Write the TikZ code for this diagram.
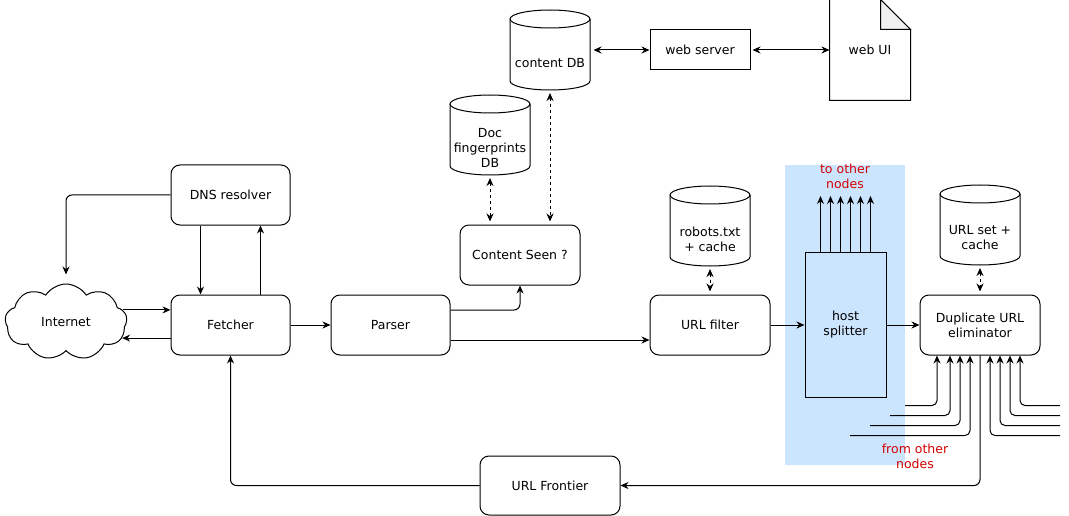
\documentclass[tikz,border=0pt]{standalone}
\usepackage{fontspec}
\setmainfont{DejaVu Sans}
\usetikzlibrary{arrows.meta,calc,shapes.symbols}

\definecolor{zonebg}{HTML}{CCE5FF}
\definecolor{notered}{HTML}{D40000}
\definecolor{foldgray}{HTML}{F0F0F0}

\tikzset{
  every node/.style={font=\fontsize{12.5}{15}\selectfont, align=center},
  >={Stealth[length=8pt,width=7pt]},
  every path/.style={line width=1pt},
  box/.style={draw, rounded corners=9pt, minimum width=119pt, minimum height=60pt},
  plainbox/.style={draw, minimum width=100pt, minimum height=40pt},
  dbtext/.style={minimum width=80pt, inner sep=0pt},
  redtext/.style={text=notered},
  link/.style={->, rounded corners=6pt},
  dblink/.style={<->, dashed, shorten <=3pt, shorten >=3pt}
}

\newcommand{\dbdraw}[1]{%
  \draw ($(#1.center)+(-40,-44)$) -- ($(#1.center)+(-40,18)$)
    arc[start angle=180, end angle=360, x radius=40pt, y radius=9pt]
    -- ($(#1.center)+(40,-44)$);
  \draw ($(#1.center)+(0,-44)$) ellipse[x radius=40pt, y radius=9pt];
  \coordinate (#1-bot) at ($(#1.center)+(0,27)$);
}

\begin{document}
\begin{tikzpicture}[x=1pt, y=-1pt]
\useasboundingbox (0,0) rectangle (1069,516);
\fill[zonebg] (785,165) rectangle (905,465);

\node[cloud, draw, cloud puffs=9, cloud puff arc=115, aspect=1.7,
      minimum width=122pt, minimum height=76pt, inner sep=0pt] (inet) at (66,322) {Internet};
\node[box] (dns) at (230.5,195) {DNS resolver};
\node[box] (fetch) at (230.5,325) {Fetcher};
\node[box] (parser) at (390.5,325) {Parser};
\node[box, minimum width=120pt] (seen) at (520,255) {Content Seen ?};
\node[dbtext] (fp) at (490,148) {Doc\\fingerprints\\DB};
\node[dbtext] (cdb) at (550,63) {content DB};
\node[plainbox] (web) at (700,50) {web server};
\node[minimum width=80pt, minimum height=100pt] (ui) at (870,50) {web UI};
\node[dbtext] (robots) at (710,239) {robots.txt\\+ cache};
\node[box, minimum width=120pt] (filter) at (710,325) {URL filter};
\node[draw, fill=zonebg, minimum width=81pt, minimum height=145pt] (split) at (845.5,325) {host\\splitter};
\node[dbtext] (urlset) at (980,238) {URL set +\\cache};
\node[box, minimum width=120pt] (dup) at (980,325) {Duplicate URL\\eliminator};
\node[box, minimum width=140pt, minimum height=59pt] (front) at (550,485.5) {URL Frontier};
\node[redtext] (toother) at (845,176) {to other\\nodes};
\node[redtext] (fromother) at (915,456) {from other\\nodes};

\dbdraw{fp}
\dbdraw{cdb}
\dbdraw{robots}
\dbdraw{urlset}

\draw (ui.south west) -- (ui.north west) -- ($(ui.north east)+(-30,0)$)
  -- ($(ui.north east)+(0,30)$) -- (ui.south east) -- cycle;
\filldraw[fill=foldgray] ($(ui.north east)+(-30,0)$) -- ($(ui.north east)+(-30,30)$)
  -- ($(ui.north east)+(0,30)$) -- cycle;

\draw[link] (dns.west) -| ($(inet.north)+(0,-9)$);
\draw[->] ($(dns.south)+(-30,0)$) -- ($(fetch.north)+(-30,0)$);
\draw[->] ($(fetch.north)+(30,0)$) -- ($(dns.south)+(30,0)$);
\draw[->] (inet.12) -- (inet.12 -| fetch.west);
\draw[->] (fetch.west |- inet.-16) -- (inet.-16);
\draw[->] (fetch) -- (parser);
\draw[link] ($(parser.east)+(0,-15)$) -| (seen.south);
\draw[->] ($(parser.east)+(0,15)$) -- ($(filter.west)+(0,15)$);
\draw[dblink] (fp-bot) -- (fp-bot |- seen.north);
\draw[dblink] (cdb-bot) -- (cdb-bot |- seen.north);
\draw[<->, shorten <=3pt] (cdb.east |- web.west) -- (web.west);
\draw[<->, shorten <=2pt] (web.east) -- (ui.west |- web.east);
\draw[dblink] (robots-bot) -- (filter.north);
\draw[->] (filter) -- (split);
\draw[->] (split) -- (dup);
\draw[dblink] (urlset-bot) -- (dup.north);
\draw[link] (dup.south) |- (front.east);
\draw[link] (front.west) -| (fetch.south);

\foreach \dx in {-25,-15,...,25}
  \draw[->] ($(split.north)+(\dx,0)$) -- ++(0,-56);
\foreach \dx/\dy/\sx in {-43/50/-75, -30/60/-90, -20/70/-110, -10/80/-130,
                         10/80/80, 20/70/80, 30/60/80, 40/50/80}
  \draw[->, rounded corners=5pt] ($(dup.south)+(\sx,\dy)$) -| ($(dup.south)+(\dx,0)$);
\end{tikzpicture}
\end{document}
